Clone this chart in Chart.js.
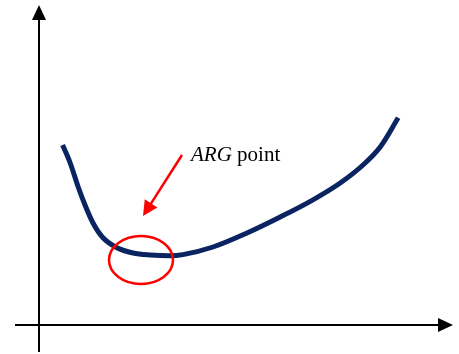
<!DOCTYPE html>
<html>
<head>
<meta charset="utf-8">
<script src="https://cdn.jsdelivr.net/npm/chart.js@4/dist/chart.umd.min.js"></script>
<style>
    html, body { margin: 0; padding: 0; background: #fff; }
    #wrap { width: 459px; height: 354px; position: relative; }
</style>
</head>
<body>
<div id="wrap"><canvas id="chart"></canvas></div>
<script>
    // curve (x to the right, y upward, origin where the axes cross)
    var curveX = [0.59, 0.78, 0.98, 1.15, 1.35, 1.6, 1.95, 2.35, 2.78, 3.28, 3.6, 4.35, 5.2, 6.03, 6.85, 7.53, 8.1, 8.53, 8.98];
    var curveY = [4.5, 4.05, 3.45, 3.0, 2.55, 2.18, 1.93, 1.8, 1.75, 1.73, 1.76, 1.95, 2.3, 2.7, 3.13, 3.55, 4.0, 4.45, 5.18];

    // annotation
    var argCenter = [2.55, 1.625];
    var argRadius = [0.8, 0.6];
    var arrowFrom = [3.575, 4.25];
    var arrowTo = [2.6, 2.725];
    var labelAt = [3.8, 4.1];

    var axisX = [-0.6, 10.35];
    var axisY = [-0.675, 8.0];

    var points = curveX.map(function (x, i) { return { x: x, y: curveY[i] }; });

    function arrowHead(ctx, fx, fy, tx, ty, len, half) {
        var a = Math.atan2(ty - fy, tx - fx);
        ctx.beginPath();
        ctx.moveTo(tx, ty);
        ctx.lineTo(tx - len * Math.cos(a) + half * Math.sin(a), ty - len * Math.sin(a) - half * Math.cos(a));
        ctx.lineTo(tx - len * Math.cos(a) - half * Math.sin(a), ty - len * Math.sin(a) + half * Math.cos(a));
        ctx.closePath();
        ctx.fill();
    }

    var sketchPlugin = {
        id: 'sketch',
        beforeDatasetsDraw: function (chart) {
            var ctx = chart.ctx, xs = chart.scales.x, ys = chart.scales.y;
            var x0 = xs.getPixelForValue(0), y0 = ys.getPixelForValue(0);
            ctx.save();
            ctx.strokeStyle = '#000';
            ctx.fillStyle = '#000';
            ctx.lineWidth = 2;
            // horizontal axis
            var hx1 = xs.getPixelForValue(axisX[0]), hx2 = xs.getPixelForValue(axisX[1]);
            ctx.beginPath();
            ctx.moveTo(hx1, y0);
            ctx.lineTo(hx2 - 10, y0);
            ctx.stroke();
            arrowHead(ctx, hx1, y0, hx2, y0, 15, 7);
            // vertical axis
            var vy1 = ys.getPixelForValue(axisY[0]), vy2 = ys.getPixelForValue(axisY[1]);
            ctx.beginPath();
            ctx.moveTo(x0, vy1);
            ctx.lineTo(x0, vy2 + 10);
            ctx.stroke();
            arrowHead(ctx, x0, vy1, x0, vy2, 15, 7);
            ctx.restore();
        },
        afterDatasetsDraw: function (chart) {
            var ctx = chart.ctx, xs = chart.scales.x, ys = chart.scales.y;
            ctx.save();
            ctx.strokeStyle = '#ff0000';
            ctx.fillStyle = '#ff0000';
            ctx.lineWidth = 2.5;
            // circle around the ARG point
            var cx = xs.getPixelForValue(argCenter[0]), cy = ys.getPixelForValue(argCenter[1]);
            var rx = xs.getPixelForValue(argCenter[0] + argRadius[0]) - cx;
            var ry = cy - ys.getPixelForValue(argCenter[1] + argRadius[1]);
            ctx.beginPath();
            ctx.ellipse(cx, cy, rx, ry, 0, 0, Math.PI * 2);
            ctx.stroke();
            // arrow
            var fx = xs.getPixelForValue(arrowFrom[0]), fy = ys.getPixelForValue(arrowFrom[1]);
            var tx = xs.getPixelForValue(arrowTo[0]), ty = ys.getPixelForValue(arrowTo[1]);
            var a = Math.atan2(ty - fy, tx - fx);
            ctx.beginPath();
            ctx.moveTo(fx, fy);
            ctx.lineTo(tx - 10 * Math.cos(a), ty - 10 * Math.sin(a));
            ctx.stroke();
            arrowHead(ctx, fx, fy, tx, ty, 15, 7.5);
            // label
            var lx = xs.getPixelForValue(labelAt[0]), ly = ys.getPixelForValue(labelAt[1]);
            ctx.fillStyle = '#000';
            ctx.textBaseline = 'alphabetic';
            ctx.font = 'italic 21px "Liberation Serif", "DejaVu Serif", serif';
            ctx.fillText('ARG', lx, ly);
            var w = ctx.measureText('ARG ').width;
            ctx.font = '21px "Liberation Serif", "DejaVu Serif", serif';
            ctx.fillText('point', lx + w, ly);
            ctx.restore();
        }
    };

    new Chart(document.getElementById('chart'), {
        type: 'scatter',
        data: {
            datasets: [{
                data: points,
                showLine: true,
                borderColor: '#0a2462',
                borderWidth: 5,
                borderCapStyle: 'butt',
                pointRadius: 0,
                cubicInterpolationMode: 'monotone'
            }]
        },
        options: {
            responsive: true,
            maintainAspectRatio: false,
            animation: false,
            devicePixelRatio: 1,
            layout: { padding: 0 },
            scales: {
                x: { type: 'linear', display: false, min: -0.975, max: 10.5 },
                y: { type: 'linear', display: false, min: -0.725, max: 8.125 }
            },
            plugins: {
                legend: { display: false },
                tooltip: { enabled: false }
            }
        },
        plugins: [sketchPlugin]
    });
</script>
</body>
</html>
